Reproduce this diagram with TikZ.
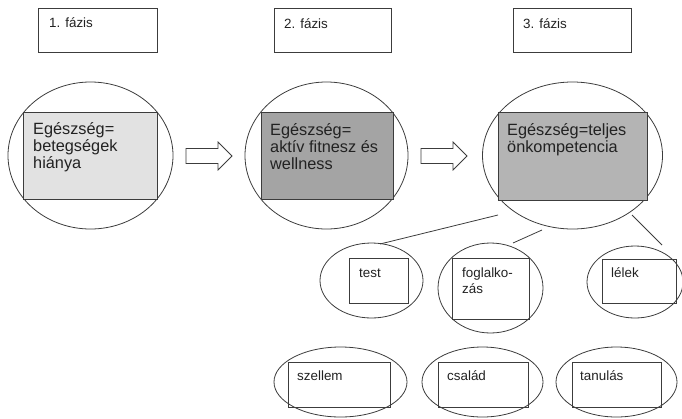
\documentclass[tikz,border=0pt]{standalone}
\usepackage{fontspec}
\setmainfont{Liberation Sans}
\usetikzlibrary{shapes.geometric}
\definecolor{linec}{HTML}{3C3C3C}
\definecolor{textc}{HTML}{222222}
\definecolor{fillA}{HTML}{E2E2E2}
\definecolor{fillB}{HTML}{A4A4A4}
\definecolor{fillC}{HTML}{B4B4B4}
\tikzset{
  outl/.style={draw=linec, line width=0.8pt},
  oval/.style={outl, ellipse, inner sep=0pt},
  boxr/.style={outl, rectangle, inner sep=0pt},
  bigtxt/.style={anchor=base west, inner sep=0pt, align=left, text=textc, font=\fontsize{16.3}{17}\selectfont},
  smalltxt/.style={anchor=base west, inner sep=0pt, align=left, text=textc, font=\fontsize{13.4}{16.5}\selectfont},
  link/.style={draw=linec, line width=0.8pt},
  blockarrow/.pic={\draw[outl, fill=white] (0,-7.5) -- (32,-7.5) -- (32,-14) -- (46,0) -- (32,14) -- (32,7.5) -- (0,7.5) -- cycle;}
}
\begin{document}
\begin{tikzpicture}[x=1pt, y=-1pt]
\useasboundingbox (0,0) rectangle (682,418);
% phase boxes
\node[boxr, minimum width=119pt, minimum height=44pt] (b1) at (97.5,30) {};
\node[boxr, minimum width=117pt, minimum height=44pt] (b2) at (332.5,30) {};
\node[boxr, minimum width=118pt, minimum height=44pt] (b3) at (572,30) {};
\node[smalltxt] (tb1) at (49,27.5) {1. fázis};
\node[smalltxt] (tb2) at (284,28) {2. fázis};
\node[smalltxt] (tb3) at (523,28) {3. fázis};
% main circles
\node[oval, minimum width=165pt, minimum height=147pt] (c1) at (90.5,155.5) {};
\node[oval, minimum width=163pt, minimum height=147pt] (c2) at (326.5,155.5) {};
\node[oval, minimum width=180pt, minimum height=147pt] (c3) at (572.5,155.5) {};
\node[boxr, fill=fillA, minimum width=134pt, minimum height=87pt] (r1) at (90,155.5) {};
\node[boxr, fill=fillB, minimum width=132pt, minimum height=87pt] (r2) at (327,155.5) {};
\node[boxr, fill=fillC, minimum width=149pt, minimum height=88pt] (r3) at (572.5,156) {};
\node[bigtxt] (t1) at (33,168) {Egészség=\\betegségek\\hiánya};
\node[bigtxt] (t2) at (270,169) {Egészség=\\aktív fitnesz és\\wellness};
\node[bigtxt] (t3) at (507,152) {Egészség=teljes\\önkompetencia};
% block arrows
\pic at (186,156) {blockarrow};
\pic at (421,156) {blockarrow};
% sub-ellipses row 1
\node[oval, minimum width=103pt, minimum height=75pt] (e4) at (371.5,280.5) {};
\node[boxr, minimum width=59pt, minimum height=45pt] (s4) at (378.5,280.5) {};
\node[smalltxt] (t4) at (359,277) {test};
\node[oval, minimum width=105pt, minimum height=90pt] (e5) at (490.5,288) {};
\node[boxr, minimum width=77pt, minimum height=61pt] (s5) at (490.5,288.5) {};
\node[smalltxt] (t5) at (462,293.5) {foglalko-\\zás};
\node[oval, minimum width=96pt, minimum height=72pt] (e6) at (635,282) {};
\node[boxr, minimum width=74pt, minimum height=44pt] (s6) at (639,281) {};
\node[smalltxt] (t6) at (611,277) {lélek};
% row 2
\node[oval, minimum width=133pt, minimum height=70pt] (e7) at (340.5,382) {};
\node[boxr, minimum width=102pt, minimum height=45pt] (s7) at (339,384.5) {};
\node[smalltxt] (t7) at (297,380.5) {szellem};
\node[oval, minimum width=121pt, minimum height=70pt] (e8) at (482.5,382) {};
\node[boxr, minimum width=90pt, minimum height=45pt] (s8) at (483,384.5) {};
\node[smalltxt] (t8) at (447,380.5) {család};
\node[oval, minimum width=121pt, minimum height=70pt] (e9) at (616.5,382) {};
\node[boxr, minimum width=89pt, minimum height=45pt] (s9) at (616.5,384.5) {};
\node[smalltxt] (t9) at (580,380.5) {tanulás};
% connectors
\coordinate (l1a) at (498,215);
\coordinate (l1b) at (380,244);
\coordinate (l2a) at (542,230);
\coordinate (l2b) at (513,243);
\coordinate (l3a) at (632,215);
\coordinate (l3b) at (662,245);
\draw[link] (l1a) -- (l1b);
\draw[link] (l2a) -- (l2b);
\draw[link] (l3a) -- (l3b);
\end{tikzpicture}
\end{document}
